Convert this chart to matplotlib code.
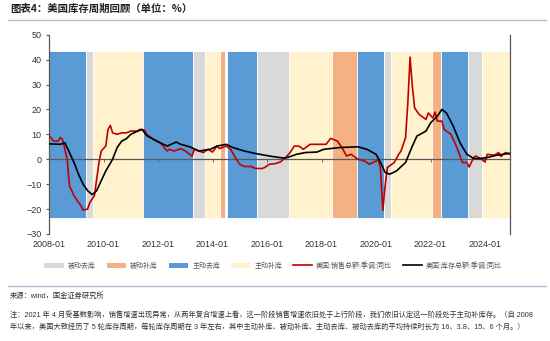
import matplotlib
matplotlib.use("Agg")
import matplotlib.pyplot as plt
from matplotlib.patches import Patch
from matplotlib.lines import Line2D
import pandas as pd

plt.rcParams['font.family'] = ['Liberation Sans', 'Noto Sans CJK SC']

# 美国:销售总额:季调:同比
red_months = ["2008-01", "2008-03", "2008-05", "2008-06", "2008-07", "2008-09", "2008-10", "2008-12",
              "2009-01", "2009-03", "2009-04", "2009-06", "2009-07", "2009-09", "2009-10", "2009-11",
              "2009-12", "2010-02", "2010-03", "2010-04", "2010-05", "2010-07", "2010-09", "2010-11",
              "2011-01", "2011-04", "2011-05", "2011-07", "2011-08", "2011-11", "2012-02", "2012-05",
              "2012-06", "2012-08", "2012-11", "2013-01", "2013-04", "2013-05", "2013-07", "2013-09",
              "2013-11", "2014-01", "2014-03", "2014-04", "2014-07", "2014-09", "2014-11", "2015-01",
              "2015-03", "2015-06", "2015-08", "2015-11", "2015-12", "2016-02", "2016-05", "2016-07",
              "2016-09", "2016-11", "2017-01", "2017-03", "2017-05", "2017-08", "2017-10", "2017-12",
              "2018-03", "2018-05", "2018-08", "2018-10", "2018-12", "2019-02", "2019-04", "2019-05",
              "2019-08", "2019-10", "2020-01", "2020-02", "2020-03", "2020-04", "2020-05", "2020-06",
              "2020-09", "2020-11", "2020-12", "2021-02", "2021-03", "2021-04", "2021-05", "2021-06",
              "2021-08", "2021-11", "2021-12", "2022-02", "2022-03", "2022-04", "2022-06", "2022-07",
              "2022-10", "2022-12", "2023-02", "2023-03", "2023-05", "2023-06", "2023-08", "2023-09",
              "2023-11", "2024-01", "2024-02", "2024-05", "2024-07", "2024-08", "2024-10", "2024-12"]
red_vals = [9.6, 7.3, 7.3, 8.7, 7.9, 0, -10.6, -14.6,
            -16, -18.6, -20.4, -20, -17.3, -14.6, -8, -1.3,
            3.3, 5.3, 12, 13.6, 10.6, 10, 10.6, 10.6,
            11.3, 11.3, 12, 11.7, 10, 8, 6.6, 3.3,
            4, 3.3, 4.3, 3.3, 1.3, 4, 3.3, 2.7,
            4, 2.9, 5.3, 4.3, 5.3, 4, 0.7, -2,
            -2.9, -2.9, -3.7, -3.7, -3.3, -2, -1.7, -1,
            0.5, 2.5, 5.3, 5.3, 4, 6, 6, 6,
            6, 8.4, 7.3, 4.7, 1.3, 2, 0.7, 0,
            -0.7, -2, -0.7, 0, -4, -20.6, -10.6, -3.3,
            -1.3, 2, 3.3, 8.6, 22.6, 41, 29.3, 20.6,
            18, 16, 18.6, 16.6, 18.9, 15.3, 15.3, 12,
            10, 6, 1.3, -1.3, -1.3, -3.1, 0.7, 1.3,
            0.3, -1.1, 2, 1.6, 2.7, 1.1, 2.7, 2]

# 美国:库存总额:季调:同比
black_months = ["2008-01", "2008-06", "2008-08", "2008-10", "2008-12", "2009-02", "2009-04", "2009-06",
                "2009-08", "2009-10", "2009-12", "2010-02", "2010-05", "2010-07", "2010-09", "2010-11",
                "2011-01", "2011-04", "2011-06", "2011-08", "2011-11", "2012-02", "2012-05", "2012-09",
                "2012-11", "2013-03", "2013-07", "2013-12", "2014-03", "2014-07", "2014-10", "2015-03",
                "2015-08", "2016-02", "2016-08", "2016-10", "2017-02", "2017-06", "2017-11", "2018-02",
                "2018-09", "2019-05", "2019-09", "2020-01", "2020-03", "2020-05", "2020-07", "2020-10",
                "2021-02", "2021-05", "2021-07", "2021-11", "2022-01", "2022-04", "2022-06", "2022-08",
                "2022-11", "2023-02", "2023-05", "2023-08", "2023-11", "2024-02", "2024-06", "2024-12"]
black_vals = [6.2, 6, 6.6, 2.7, -1.3, -6, -10, -12.6,
              -14.2, -12.6, -8.6, -4.7, 0, 4.7, 7.3, 8.2,
              10, 11.3, 12, 9.5, 8, 6.6, 5.3, 6.9,
              6, 5, 3.3, 4, 5.3, 6, 4.7, 3.3,
              2.3, 1.3, 0.5, 0.7, 2, 2.7, 2.9, 4,
              4.7, 5, 4, 2, -1.3, -5.3, -6, -4.7,
              -1.3, 5.3, 9.3, 11.3, 14.6, 17.3, 20, 18.6,
              13.3, 6.6, 2, 0.3, 0.3, 0.7, 1.6, 2.4]

# 库存周期阶段
band_first = ["2008-01", "2009-06", "2009-09", "2011-07", "2013-05", "2013-10", "2014-05", "2014-08",
              "2015-09", "2016-11", "2018-06", "2019-05", "2020-05", "2020-08", "2022-02", "2022-06",
              "2023-06", "2023-12"]
band_last = ["2009-05", "2009-08", "2011-06", "2013-04", "2013-09", "2014-04", "2014-06", "2015-08",
             "2016-10", "2018-05", "2019-04", "2020-04", "2020-07", "2022-01", "2022-05", "2023-05",
             "2023-11", "2024-12"]
band_kind = ["主动去库", "被动去库", "主动补库", "主动去库", "被动去库", "主动补库", "被动补库", "主动去库",
             "被动去库", "主动补库", "被动补库", "主动去库", "被动去库", "主动补库", "被动补库", "主动去库",
             "被动去库", "主动补库"]
band_bottom, band_top = -23.5, 43.5

phase_order = ["被动去库", "被动补库", "主动去库", "主动补库"]
phase_colors = {"被动去库": "#D9D9D9", "被动补库": "#F4B183",
                "主动去库": "#5B9BD5", "主动补库": "#FFF2CC"}

tick_years = list(range(2008, 2025, 2))
tick_labels = [f"{y}-01" for y in tick_years]

red_name = "美国:销售总额:季调:同比"
black_name = "美国:库存总额:季调:同比"


def to_year(months):
    d = pd.to_datetime(pd.Series(months), format="%Y-%m")
    return (d.dt.year + (d.dt.month - 1) / 12).to_numpy()


fig = plt.figure(figsize=(5.5, 3.41), dpi=100)
ax = fig.add_axes([0.0891, 0.3138, 0.8382, 0.5844])

# bands
bf = to_year(band_first)
bl = to_year(band_last)
ax.bar(bf - 1 / 24, band_top - band_bottom, width=bl - bf + 1 / 12, bottom=band_bottom,
       align='edge', color=[phase_colors[k] for k in band_kind],
       edgecolor='white', linewidth=0.6, zorder=1)

ax.plot(to_year(red_months), red_vals, color='#C00000', lw=1.2, zorder=4)
ax.plot(to_year(black_months), black_vals, color='black', lw=1.2, zorder=5)

ax.set_xlim(2008.0, 2024.917)
ax.set_ylim(-30, 50)
ax.set_yticks(range(-30, 51, 10))
ax.set_xticks(tick_years)
ax.set_xticklabels(tick_labels)
ax.tick_params(axis='x', length=0, pad=4, labelsize=6.5, labelcolor='#333333')
ax.tick_params(axis='y', length=2.5, width=0.8, color='#595959', pad=3,
               labelsize=6.5, labelcolor='#333333')
for s in ['top', 'bottom']:
    ax.spines[s].set_visible(False)
for s in ['left', 'right']:
    ax.spines[s].set_color('#595959')
    ax.spines[s].set_linewidth(0.9)

# zero line with its own ticks
zero = ax.secondary_xaxis((0 - (-30)) / 80)
zero.set_xticks(tick_years)
zero.set_xticklabels([])
zero.tick_params(length=2, width=0.6, color='#595959')
zero.spines['bottom'].set_color('#595959')
zero.spines['bottom'].set_linewidth(0.9)
zero.set_zorder(3)

# legend
handles = [Patch(facecolor=phase_colors[k], edgecolor='none') for k in phase_order]
handles += [Line2D([], [], color='#C00000', lw=1.2), Line2D([], [], color='black', lw=1.2)]
labels = phase_order + [red_name, black_name]
fig.legend(handles, labels, loc='center', bbox_to_anchor=(0.497, 1 - 266 / 341), ncol=6,
           frameon=False, fontsize=5, handlelength=2.8, handleheight=0.7,
           handletextpad=0.6, columnspacing=1.5, labelcolor='#555555')

# title, source, notes
fig.text(10 / 550, 1 - 9 / 341, "图表4：美国库存周期回顾（单位：%）", fontsize=7.5,
         fontweight='bold', color='#222222', va='center', ha='left',
         family=['Noto Sans CJK SC'])
fig.add_artist(Line2D([8 / 550, 546 / 550], [1 - 19.5 / 341] * 2, color='#A9BED1', lw=1))
fig.add_artist(Line2D([8 / 550, 546 / 550], [1 - 286 / 341] * 2, color='#A9BED1', lw=1))
fig.text(10 / 550, 1 - 296 / 341, "来源：wind，国金证券研究所", fontsize=5.2,
         color='#333333', va='center', ha='left')
fig.text(10 / 550, 1 - 315 / 341,
         "注：2021 年 4 月受基数影响，销售增速出现异常，从两年复合增速上看，这一阶段销售增速依旧处于上行阶段，"
         "我们依旧认定这一阶段处于主动补库存。（自 2008",
         fontsize=5.2, color='#333333', va='center', ha='left')
fig.text(10 / 550, 1 - 327 / 341,
         "年以来，美国大致经历了 5 轮库存周期，每轮库存周期在 3 年左右，其中主动补库、被动补库、主动去库、"
         "被动去库的平均持续时长为 16、3.8、15、6 个月。）",
         fontsize=5.2, color='#333333', va='center', ha='left')

fig.savefig("out.png", dpi=100)
